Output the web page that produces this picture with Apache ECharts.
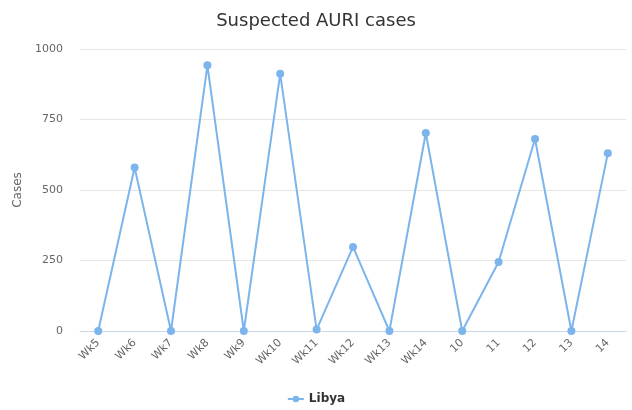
<!DOCTYPE html>
<html>
<head>
<meta charset="utf-8">
<script src="https://cdn.jsdelivr.net/npm/echarts@6/dist/echarts.min.js"></script>
<style>html,body{margin:0;padding:0;background:#fff}#c{width:632px;height:410px}</style>
</head>
<body>
<div id="c"></div>
<script>
const categories = ['Wk5','Wk6','Wk7','Wk8','Wk9','Wk10','Wk11','Wk12','Wk13','Wk14','10','11','12','13','14'];
const libya = [0, 580, 0, 942, 0, 912, 5, 298, 0, 702, 0, 245, 681, 0, 630];
const yTicks = [0, 250, 500, 750, 1000];
const FONT = 'DejaVu Sans';
const chart = echarts.init(document.getElementById('c'));
chart.setOption({
  animation: false,
  title: {text: 'Suspected AURI cases', left: 'center', top: 7,
    textStyle: {fontFamily: FONT, fontSize: 18, fontWeight: 'normal', color: '#333'}},
  legend: {bottom: 0, left: 'center', itemWidth: 16, itemHeight: 8,
    textStyle: {fontFamily: FONT, fontSize: 12, fontWeight: 'bold', color: '#333'},
    data: ['Libya']},
  grid: {left: 80, right: 6, top: 49, bottom: 79, containLabel: false},
  xAxis: {type: 'category', data: categories, boundaryGap: true,
    axisLine: {lineStyle: {color: '#ccd6eb'}},
    axisTick: {show: false},
    axisLabel: {rotate: 45, color: '#666', fontFamily: FONT, fontSize: 11, margin: 10, interval: 0}},
  yAxis: {type: 'value', min: yTicks[0], max: yTicks[yTicks.length-1], interval: 250,
    name: 'Cases', nameLocation: 'middle', nameGap: 52, nameRotate: 90,
    nameTextStyle: {fontFamily: FONT, fontSize: 12, color: '#666'},
    axisLine: {show: false}, axisTick: {show: false},
    axisLabel: {color: '#666', fontFamily: FONT, fontSize: 11, margin: 17, formatter: v => String(v)},
    splitLine: {lineStyle: {color: '#e6e6e6'}}},
  series: [{name: 'Libya', type: 'line', data: libya,
    symbol: 'circle', symbolSize: 8,
    lineStyle: {color: '#7cb5ec', width: 2},
    itemStyle: {color: '#7cb5ec'}}]
});
</script>
</body>
</html>
